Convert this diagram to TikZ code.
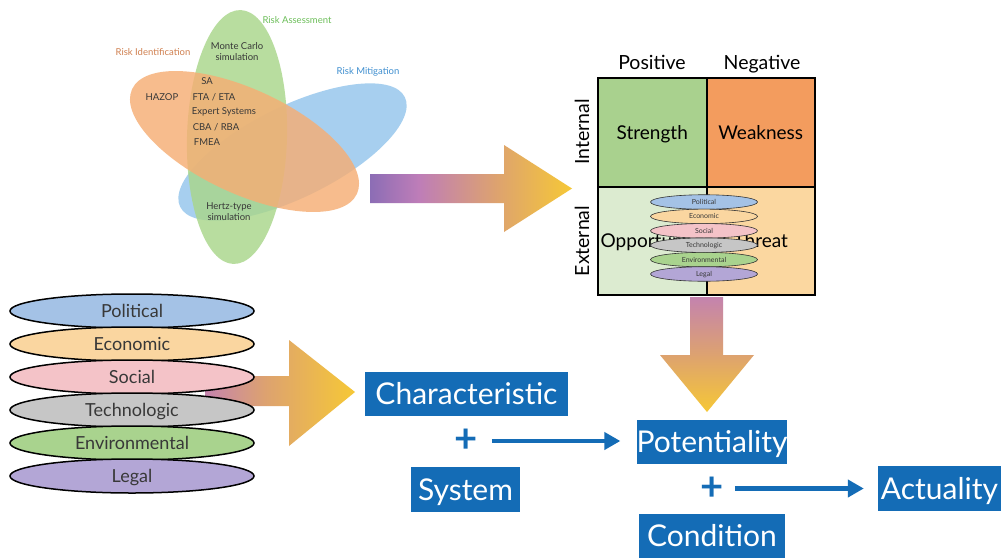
\documentclass[tikz,border=0pt]{standalone}
\usepackage{fontspec}
\setmainfont{Lato}
\usetikzlibrary{shapes.geometric,arrows.meta}
\definecolor{vblue}{HTML}{94C5EC}
\definecolor{vgreen}{HTML}{A9D68A}
\definecolor{vorange}{HTML}{F6AE74}
\definecolor{tgreen}{HTML}{6DBF5A}
\definecolor{torange}{HTML}{D08050}
\definecolor{tblue}{HTML}{3F8FD0}
\definecolor{tdark}{HTML}{383838}
\definecolor{cS}{HTML}{A9D18E}
\definecolor{cW}{HTML}{F39C5E}
\definecolor{cO}{HTML}{DCEBD0}
\definecolor{cT}{HTML}{FBD7A0}
\definecolor{pPol}{HTML}{A4C2E6}
\definecolor{pEco}{HTML}{FAD6A0}
\definecolor{pSoc}{HTML}{F4C3C8}
\definecolor{pTec}{HTML}{C6C6C6}
\definecolor{pEnv}{HTML}{A9D38E}
\definecolor{pLeg}{HTML}{B3A6D6}
\definecolor{bblue}{HTML}{146CB6}
\definecolor{apurple}{HTML}{8C6DB5}
\definecolor{apink}{HTML}{BE7DB8}
\definecolor{aorange}{HTML}{DDA270}
\definecolor{ayellow}{HTML}{F6C836}
\definecolor{apink2}{HTML}{C483AE}
\pgfdeclarehorizontalshading{hshadeA}{100bp}{color(0bp)=(apurple); color(25bp)=(apurple); color(37bp)=(apink); color(56bp)=(aorange); color(75bp)=(ayellow); color(100bp)=(ayellow)}
\pgfdeclarehorizontalshading{hshadeB}{100bp}{color(0bp)=(apink2); color(25bp)=(apink2); color(45bp)=(aorange); color(75bp)=(ayellow); color(100bp)=(ayellow)}
\pgfdeclareverticalshading{vshade}{100bp}{color(0bp)=(ayellow); color(25bp)=(ayellow); color(50bp)=(aorange); color(75bp)=(apink2); color(100bp)=(apink2)}
\tikzset{
  venn/.style={ellipse, inner sep=0pt, fill opacity=0.82},
  vtext/.style={text=tdark, font=\fontsize{9.5}{11}\selectfont, align=center, inner sep=1pt},
  rlabel/.style={font=\fontsize{9.5}{11}\selectfont, inner sep=1pt},
  cell/.style={draw=black, line width=2pt, minimum width=108.5pt, minimum height=108.5pt, inner sep=0pt, font=\fontsize{19}{22}\selectfont, text height=13.7pt, text depth=0pt},
  hdr/.style={font=\fontsize{19.5}{22}\selectfont, inner sep=1pt, text height=14pt, text depth=0pt},
  pbig/.style={ellipse, draw=black, line width=1.5pt, minimum width=244pt, minimum height=34pt, inner sep=0pt, font=\fontsize{18}{20}\selectfont, text=tdark, text height=13pt, text depth=0pt},
  psmall/.style={ellipse, draw=black!80, line width=0.6pt, minimum width=107pt, minimum height=14.5pt, inner sep=0pt, font=\fontsize{7}{8}\selectfont, text=tdark, text height=5pt, text depth=0pt},
  bbox/.style={fill=bblue, text=white, font=\fontsize{30}{32}\selectfont, inner sep=0pt, text height=21.6pt, text depth=0pt},
  plus/.style={text=bblue, font=\fontsize{40}{40}\selectfont\bfseries, inner sep=0pt},
  barrow/.style={draw=bblue, line width=4.5pt, -{Triangle[length=16pt,width=17pt]}}
}
\begin{document}
\begin{tikzpicture}[x=1pt,y=-1pt]
\useasboundingbox (0,0) rectangle (1001,557);
\fill[white] (0,0) rectangle (1001,557);

% Venn diagram
\node[venn, fill=vblue, minimum width=250pt, minimum height=92pt, rotate=26] (mitig) at (292.5,152) {};
\node[venn, fill=vgreen, minimum width=100pt, minimum height=254pt, rotate=-1.6] (assess) at (237,137) {};
\node[venn, fill=vorange, minimum width=248pt, minimum height=104pt, rotate=-25] (ident) at (244.5,141.5) {};

\node[rlabel, text=tgreen] (lassess) at (297,20) {Risk Assessment};
\node[rlabel, text=torange] (lident) at (153,52) {Risk Identification};
\node[rlabel, text=tblue] (lmitig) at (368,72) {Risk Mitigation};

\node[vtext] (mc) at (237,52) {Monte Carlo\\simulation};
\node[vtext] (sa) at (207,81) {SA};
\node[vtext] (hazop) at (162,97) {HAZOP};
\node[vtext] (fta) at (214,97) {FTA / ETA};
\node[vtext] (es) at (224,112) {Expert Systems};
\node[vtext] (cba) at (216,127) {CBA / RBA};
\node[vtext] (fmea) at (207,142) {FMEA};
\node[vtext] (hertz) at (229,212) {Hertz-type\\simulation};

% top block arrow
\path[shading=hshadeA] (370,174) -- (504,174) -- (504,145) -- (572,188.5) -- (504,232) -- (504,203) -- (370,203) -- cycle;

% SWOT
\node[hdr] (pos) at (652,62) {Positive};
\node[hdr] (neg) at (762,62) {Negative};
\node[hdr, rotate=90] (int) at (582,132) {Internal};
\node[hdr, rotate=90] (ext) at (582,241) {External};
\node[cell, fill=cS] (S) at (652.25,132.25) {Strength};
\node[cell, fill=cW] (W) at (760.75,132.25) {Weakness};
\node[cell, fill=cO] (O) at (652.25,240.75) {Opportunity};
\node[cell, fill=cT] (T) at (760.75,240.75) {Threat};

\node[psmall, fill=pPol] (sPol) at (704,202) {Political};
\node[psmall, fill=pEco] (sEco) at (704,216.4) {Economic};
\node[psmall, fill=pSoc] (sSoc) at (704,230.8) {Social};
\node[psmall, fill=pTec] (sTec) at (704,245.2) {Technologic};
\node[psmall, fill=pEnv] (sEnv) at (704,259.6) {Environmental};
\node[psmall, fill=pLeg] (sLeg) at (704,274) {Legal};

% vertical block arrow
\path[shading=vshade] (690,297) -- (723,297) -- (723,355) -- (754,355) -- (707,412) -- (660,355) -- (690,355) -- cycle;

% left block arrow (behind the ellipses)
\path[shading=hshadeB] (205,376) -- (289,376) -- (289,340) -- (355,392) -- (289,446) -- (289,406) -- (205,406) -- cycle;

% PESTEL big
\node[pbig, fill=pPol] (bPol) at (132,311) {Political};
\node[pbig, fill=pEco] (bEco) at (132,344) {Economic};
\node[pbig, fill=pSoc] (bSoc) at (132,377) {Social};
\node[pbig, fill=pTec] (bTec) at (132,410) {Technologic};
\node[pbig, fill=pEnv] (bEnv) at (132,443) {Environmental};
\node[pbig, fill=pLeg] (bLeg) at (132,476) {Legal};

% blue boxes
\node[bbox, minimum width=203pt, minimum height=44pt] (char) at (466.5,394) {Characteristic};
\node[bbox, minimum width=109pt, minimum height=45pt] (sys) at (465.5,489.5) {System};
\node[bbox, minimum width=148pt, minimum height=44pt] (pot) at (712,442) {Potentiality};
\node[bbox, minimum width=146pt, minimum height=44pt] (cond) at (712,535.5) {Condition};
\node[bbox, minimum width=123pt, minimum height=45pt] (act) at (939.5,488.5) {Actuality};

\node[plus] (p1) at (466,441) {+};
\node[plus] (p2) at (712,488.5) {+};

\draw[barrow, shorten <=14pt, shorten >=16pt] (p1) -- (pot.west |- p1);
\draw[barrow, shorten <=11pt, shorten >=14pt] (p2) -- (act.west |- p2);
\end{tikzpicture}
\end{document}
